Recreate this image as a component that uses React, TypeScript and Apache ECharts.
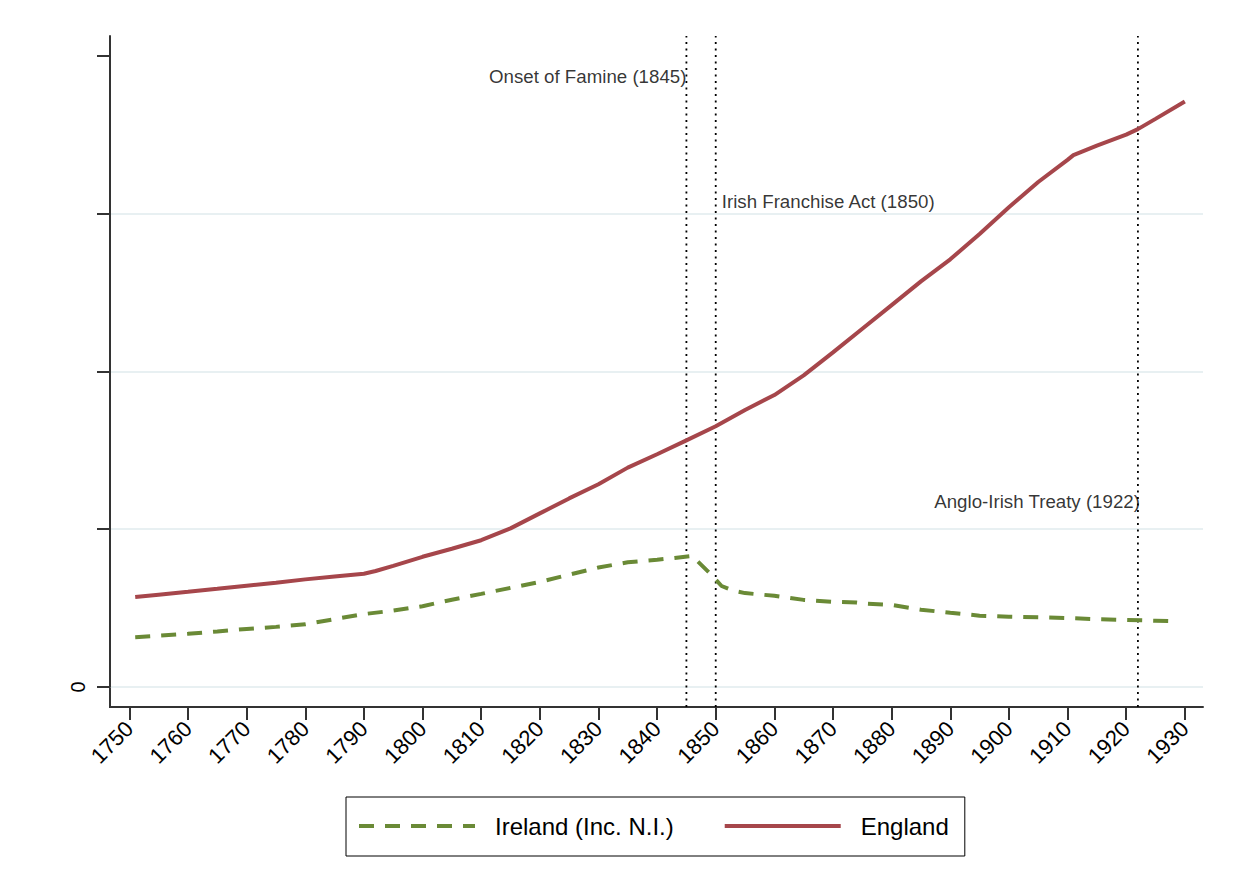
import React, { useEffect, useRef } from "react";
import * as echarts from "echarts";

const englandYears = [1751, 1755, 1760, 1765, 1770, 1775, 1780, 1785, 1790, 1792, 1795, 1800, 1805, 1810, 1815, 1820, 1825, 1830, 1835, 1840, 1845, 1850, 1855, 1860, 1865, 1870, 1875, 1880, 1885, 1890, 1895, 1900, 1905, 1910, 1911, 1915, 1920, 1922, 1925, 1930];
const englandValues = [0.570, 0.585, 0.603, 0.622, 0.642, 0.660, 0.682, 0.700, 0.718, 0.735, 0.768, 0.825, 0.876, 0.930, 1.005, 1.100, 1.195, 1.285, 1.390, 1.475, 1.563, 1.652, 1.755, 1.850, 1.975, 2.120, 2.270, 2.420, 2.570, 2.710, 2.870, 3.040, 3.200, 3.340, 3.370, 3.430, 3.500, 3.535, 3.600, 3.710];

const irelandYears = [1751, 1755, 1760, 1765, 1770, 1775, 1780, 1785, 1790, 1795, 1800, 1805, 1810, 1815, 1820, 1825, 1830, 1835, 1840, 1843, 1846, 1849, 1851, 1853, 1855, 1860, 1865, 1870, 1874, 1875, 1880, 1885, 1890, 1895, 1900, 1905, 1910, 1915, 1920, 1925, 1929];
const irelandValues = [0.316, 0.325, 0.337, 0.352, 0.368, 0.381, 0.397, 0.430, 0.462, 0.484, 0.512, 0.553, 0.590, 0.628, 0.666, 0.712, 0.757, 0.790, 0.806, 0.818, 0.830, 0.720, 0.640, 0.610, 0.595, 0.578, 0.552, 0.540, 0.535, 0.530, 0.520, 0.490, 0.470, 0.452, 0.445, 0.442, 0.437, 0.430, 0.425, 0.420, 0.416];

const tickYears = [1750, 1760, 1770, 1780, 1790, 1800, 1810, 1820, 1830, 1840, 1850, 1860, 1870, 1880, 1890, 1900, 1910, 1920, 1930];
const yTicks = [0, 1, 2, 3, 4];

const eventYears = [1845, 1850, 1922];
const eventLabels = ["Onset of Famine (1845)", "Irish Franchise Act (1850)", "Anglo-Irish Treaty (1922)"];
const eventLabelLevels = [3.867, 3.076, 1.177];
const eventLabelSides = ["left", "right", "left"];

const X_MIN = 1746.7;
const X_MAX = 1933.1;
const Y_MIN = 0;
const Y_MAX = 4.125;
const Y_BELOW = -0.1266; // extent of the axis frame below zero (offset x axis)

const FONT = "'Liberation Sans', Arial, Helvetica, sans-serif";
const RED = "#a6464b";
const GREEN = "#6a8a36";

export default function App() {
  const ref = useRef<HTMLDivElement>(null);

  useEffect(() => {
    document.body.style.margin = "0";
    if (!ref.current) return;
    const chart = echarts.init(ref.current, undefined, { renderer: "svg" });

    const england = englandYears.map((y, i) => [y, englandValues[i]]);
    const ireland = irelandYears.map((y, i) => [y, irelandValues[i]]);

    const eventSeries = eventYears.map((yr) => ({
      name: "event" + yr,
      type: "line",
      data: [
        [yr, Y_BELOW],
        [yr, Y_MAX],
      ],
      clip: false,
      symbol: "none",
      silent: true,
      z: 1,
      lineStyle: { color: "#000", width: 1.8, type: [2, 4.5] },
    }));

    const labelSeries = {
      name: "labels",
      type: "scatter",
      symbolSize: 0,
      silent: true,
      data: eventYears.map((yr, i) => ({
        value: [yr, eventLabelLevels[i]],
        label: {
          show: true,
          position: eventLabelSides[i],
          distance: eventLabelSides[i] === "right" ? 6 : 0,
          offset: i === 2 ? [2, 0] : [0, 0],
          formatter: eventLabels[i],
          fontSize: 18.7,
          fontFamily: FONT,
          color: "#000",
        },
      })),
    };

    const option: any = {
      animation: false,
      backgroundColor: "#ffffff",
      grid: {
        left: 110,
        right: 30,
        top: 36,
        bottom: 207,
        containLabel: false,
        outerBoundsMode: "none",
      },
      xAxis: {
        type: "value",
        min: X_MIN,
        max: X_MAX,
        offset: 20,
        axisLine: { show: true, onZero: false, lineStyle: { color: "#333", width: 2 } },
        axisTick: {
          show: true,
          length: 13,
          lineStyle: { color: "#333", width: 2 },
          customValues: tickYears,
        },
        axisLabel: {
          show: true,
          rotate: 45,
          margin: 18,
          fontSize: 22,
          fontFamily: FONT,
          color: "#000",
          customValues: tickYears,
          formatter: (v: number) => String(v),
        },
        splitLine: { show: false },
      },
      yAxis: {
        type: "value",
        min: Y_MIN,
        max: Y_MAX,
        interval: 1,
        axisLine: { show: true, onZero: false, lineStyle: { color: "#333", width: 2 } },
        axisTick: {
          show: true,
          length: 13,
          lineStyle: { color: "#333", width: 2 },
          customValues: yTicks,
        },
        axisLabel: {
          show: true,
          rotate: 90,
          margin: 22,
          fontSize: 20,
          fontFamily: FONT,
          color: "#000",
          customValues: yTicks,
          formatter: (v: number) => (v === yTicks[0] ? "0" : ""),
        },
        splitLine: {
          show: true,
          showMaxLine: false,
          lineStyle: { color: "#e8f0f2", width: 2 },
        },
      },
      legend: {
        data: ["Ireland (Inc. N.I.)", "England"],
        left: 346,
        top: 797,
        orient: "horizontal",
        borderColor: "#000",
        borderWidth: 1,
        padding: [17, 16, 18, 11],
        itemWidth: 116,
        itemHeight: 24,
        itemGap: 49,
        itemStyle: { opacity: 0 },
        lineStyle: { width: 4, opacity: 1 },
        textStyle: {
          fontSize: 24,
          fontFamily: FONT,
          color: "#000",
          padding: [0, 0, 0, 15],
        },
      },
      graphic: [
        {
          type: "line",
          shape: { x1: 110, y1: 686, x2: 110, y2: 708 },
          style: { stroke: "#333", lineWidth: 2 },
          silent: true,
        },
      ],
      series: [
        ...eventSeries,
        {
          name: "Ireland (Inc. N.I.)",
          type: "line",
          data: ireland,
          symbol: "none",
          z: 3,
          lineStyle: { color: GREEN, width: 4, type: [15, 11] },
          itemStyle: { color: GREEN },
        },
        {
          name: "England",
          type: "line",
          data: england,
          symbol: "none",
          z: 3,
          lineStyle: { color: RED, width: 4 },
          itemStyle: { color: RED },
        },
        labelSeries,
      ],
    };

    chart.setOption(option);
    return () => chart.dispose();
  }, []);

  return <div ref={ref} style={{ width: 1233, height: 894 }} />;
}
